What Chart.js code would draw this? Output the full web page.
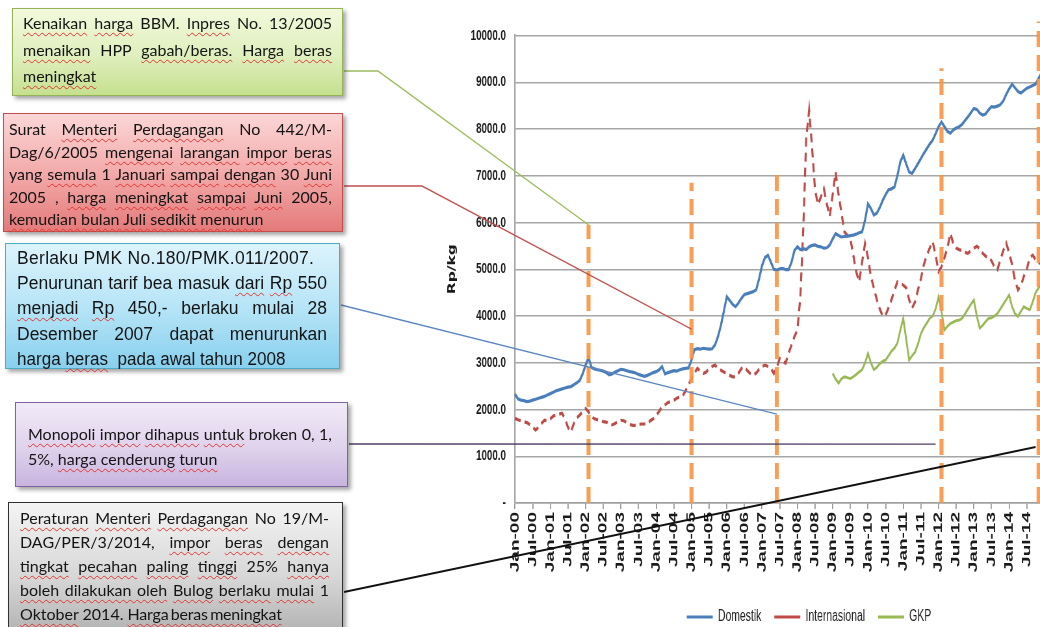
<!DOCTYPE html>
<html>
<head>
<meta charset="utf-8">
<title>Harga beras domestik, internasional dan GKP</title>
<script src="https://cdn.jsdelivr.net/npm/chart.js@4.4.1/dist/chart.umd.min.js"></script>
<style>
  html, body { margin: 0; padding: 0; background: #fff; width: 1040px; height: 627px; overflow: hidden; position: relative; }
  #chart { position: absolute; left: 0; top: 0; z-index: 1; transform-origin: 0 0; }
  .note { position: absolute; box-sizing: border-box; border: 1px solid; box-shadow: 3px 3px 4px rgba(0,0,0,.35); z-index: 2; color: #141414; }
  .note div { white-space: nowrap; }
  .note div.j { white-space: normal; text-align: justify; text-align-last: justify; }
  .sq { text-decoration: underline wavy #e3342f; text-decoration-thickness: 1px; text-underline-offset: 3px; text-decoration-skip-ink: none; }
  .cal { font-family: Lato, "Open Sans", sans-serif; font-size: 16px; }
  .ari { font-family: "Liberation Sans", Arial, sans-serif; font-size: 17.5px; }

  #n1 { left: 12px; top: 8px; width: 331px; height: 88px; padding: 1px 10px 0 10px; line-height: 26.5px;
        border-color: #93b356; background: linear-gradient(#f2f9dc, #dfefbd 55%, #c5e08f); }
  #n2 { left: 3px; top: 113px; width: 340px; height: 119px; padding: 4px 10px 0 5px; line-height: 22.6px;
        border-color: #c0504d; background: linear-gradient(#fbd6d6, #f2a6a6 55%, #e47a7a); }
  #n3 { left: 5px; top: 243px; width: 335px; height: 126px; padding: 2px 12px 0 11px; line-height: 25.2px;
        border-color: #4bacc6; background: linear-gradient(#dcf3fc, #b3e3f6 55%, #88d0ee); }
  #n4 { left: 15px; top: 402px; width: 333px; height: 85px; padding: 18px 15px 0 12px; line-height: 25px;
        border-color: #8064a2; background: linear-gradient(#f1eaf8, #dfd2ec 55%, #c8b4df); }
  #n5 { left: 8px; top: 502px; width: 335px; height: 140px; padding: 3px 13px 0 11px; line-height: 24.1px;
        border: 1.5px solid #303030; background: linear-gradient(#f4f4f4, #d6d6d6 55%, #adadad); }
  .wide { letter-spacing: 0.3px; }
  .narrow { display: inline-block; transform: scaleX(0.975); transform-origin: left center; }
  .tight { letter-spacing: -0.2px; word-spacing: -1.5px; }
</style>
</head>
<body>
<canvas id="chart"></canvas>

<div class="note cal" id="n1">
  <div class="j"><span class="sq">Kenaikan</span> <span class="sq">harga</span> BBM. <span class="sq">Inpres</span> No. 13/2005</div>
  <div class="j"><span class="sq">menaikan</span> HPP <span class="sq">gabah/beras.</span> <span class="sq">Harga</span> <span class="sq">beras</span></div>
  <div><span class="sq">meningkat</span></div>
</div>

<div class="note cal" id="n2">
  <div class="j">Surat <span class="sq">Menteri</span> <span class="sq">Perdagangan</span> No 442/M-</div>
  <div class="j">Dag/6/2005 <span class="sq">mengenai</span> <span class="sq">larangan</span> <span class="sq">impor</span> <span class="sq">beras</span></div>
  <div class="j">yang <span class="sq">semula</span> 1 <span class="sq">Januari</span> <span class="sq">sampai</span> <span class="sq">dengan</span> 30 <span class="sq">Juni</span></div>
  <div class="j">2005 , <span class="sq">harga</span> <span class="sq">meningkat</span> <span class="sq">sampai</span> <span class="sq">Juni</span> 2005,</div>
  <div><span class="sq">kemudian bulan Juli sedikit menurun</span></div>
</div>

<div class="note ari" id="n3">
  <div class="wide">Berlaku PMK No.180/PMK.011/2007.</div>
  <div class="j">Penurunan tarif bea masuk <span class="sq">dari</span> <span class="sq">Rp</span> 550</div>
  <div class="j"><span class="sq">menjadi</span> <span class="sq">Rp</span> 450,- berlaku mulai 28</div>
  <div class="j">Desember 2007 dapat menurunkan</div>
  <div><span class="narrow">harga <span class="sq">beras</span>&nbsp; pada awal tahun 2008</span></div>
</div>

<div class="note cal" id="n4">
  <div class="j"><span class="sq">Monopoli</span> <span class="sq">impor</span> <span class="sq">dihapus</span> <span class="sq">untuk</span> broken 0, 1,</div>
  <div>5%, <span class="sq">harga cenderung</span> <span class="sq">turun</span></div>
</div>

<div class="note cal" id="n5">
  <div class="j"><span class="sq">Peraturan</span> <span class="sq">Menteri</span> <span class="sq">Perdagangan</span> No 19/M-</div>
  <div class="j">DAG/PER/3/2014, <span class="sq">impor</span> <span class="sq">beras</span> <span class="sq">dengan</span></div>
  <div class="j"><span class="sq">tingkat</span> <span class="sq">pecahan</span> <span class="sq">paling</span> <span class="sq">tinggi</span> 25% <span class="sq">hanya</span></div>
  <div class="j"><span class="sq">boleh dilakukan oleh</span> <span class="sq">Bulog</span> <span class="sq">berlaku</span> <span class="sq">mulai</span> 1</div>
  <div><span class="sq">Oktober</span> 2014. <span class="sq tight">Harga beras meningkat</span></div>
</div>

<script>
// Monthly categories Jan-00 .. Dec-14
const monthNames = ['Jan','Feb','Mar','Apr','May','Jun','Jul','Aug','Sep','Oct','Nov','Dec'];
const yearCodes = ['00','01','02','03','04','05','06','07','08','09','10','11','12','13','14'];
const categories = yearCodes.flatMap(y => monthNames.map(m => m + '-' + y));

// Harga beras domestik (Rp/kg), monthly from Jan-00
const domestik = [
  2330, 2230, 2200, 2190, 2170, 2180, 2200, 2220, 2240, 2260, 2280, 2310,
  2340, 2370, 2400, 2420, 2440, 2460, 2480, 2490, 2530, 2570, 2620, 2760,
  2950, 3110, 2900, 2870, 2850, 2840, 2820, 2790, 2740, 2760, 2800, 2830,
  2860, 2850, 2830, 2810, 2800, 2780, 2750, 2730, 2710, 2730, 2760, 2790,
  2810, 2850, 2920, 2760, 2790, 2810, 2830, 2820, 2850, 2870, 2880, 2890,
  3060, 3280, 3300, 3290, 3310, 3300, 3290, 3300, 3380, 3560, 3800, 4100,
  4410, 4330, 4250, 4200, 4280, 4380, 4460, 4480, 4500, 4520, 4560, 4800,
  5080, 5250, 5300, 5150, 5000, 4980, 5010, 5020, 4990, 4990, 5150, 5400,
  5480, 5420, 5440, 5420, 5480, 5510, 5520, 5490, 5480, 5450, 5460, 5520,
  5650, 5760, 5720, 5690, 5700, 5710, 5720, 5730, 5750, 5780, 5800, 6050,
  6400, 6300, 6160, 6200, 6320, 6470, 6600, 6700, 6720, 6760, 7000, 7300,
  7440, 7250, 7080, 7050, 7150, 7260, 7370, 7480, 7580, 7680, 7760, 7900,
  8050, 8150, 8050, 7950, 7910, 7980, 8020, 8050, 8100, 8180, 8260, 8350,
  8440, 8420, 8340, 8300, 8320, 8410, 8480, 8470, 8490, 8520, 8600, 8740,
  8860, 8960, 8880, 8800, 8770, 8820, 8870, 8900, 8930, 8960, 9080, 9200
];

// Harga beras internasional (Rp/kg), monthly from Jan-00
const internasional = [
  1810, 1780, 1760, 1740, 1720, 1680, 1620, 1560, 1620, 1700, 1770, 1760,
  1800, 1860, 1880, 1900, 1920, 1800, 1620, 1520, 1700, 1820, 1880, 1950,
  2020, 1950, 1850, 1800, 1780, 1760, 1740, 1730, 1700, 1670, 1700, 1740,
  1770, 1760, 1720, 1680, 1660, 1660, 1680, 1690, 1690, 1700, 1760, 1800,
  1870, 1960, 2060, 2100, 2150, 2170, 2200, 2240, 2270, 2290, 2400, 2530,
  2660, 2780, 2880, 2820, 2770, 2800, 2880, 2920, 2950, 2880, 2840, 2800,
  2770, 2730, 2700, 2700, 2780, 2880, 2910, 2830, 2770, 2740, 2780, 2860,
  2920, 2950, 2920, 2880, 2770, 2900, 3090, 3030, 2990, 3200, 3380, 3560,
  3700, 4400, 5850, 7800, 8400, 7600, 6700, 6380, 6550, 6720, 6400, 6130,
  6600, 7080, 6600, 6200, 5800, 5720, 5660, 5300, 4950, 4730, 5150, 5550,
  5250, 4840, 4600, 4350, 4150, 4000, 4020, 4180, 4350, 4550, 4730, 4700,
  4660, 4600, 4350, 4170, 4300, 4560, 4800, 5100, 5300, 5450, 5590, 5300,
  4950, 5050, 5250, 5450, 5770, 5550, 5450, 5420, 5400, 5360, 5340, 5400,
  5450, 5490, 5440, 5340, 5280, 5260, 5180, 5050, 4990, 5200, 5400, 5560,
  5350, 5100, 4750, 4560, 4650, 4850, 5000, 5250, 5300, 5200, 5150, 5100
];

// Harga gabah kering panen (Rp/kg), monthly from Jan-09
const gkpStart = 'Jan-09';
const gkp = [
  2770, 2650, 2560, 2660, 2700, 2680, 2660, 2700, 2750, 2800, 2850, 3000,
  3200, 3000, 2850, 2900, 2980, 3030, 3060, 3150, 3250, 3310, 3420, 3700,
  3950, 3500, 3060, 3150, 3230, 3400, 3620, 3750, 3850, 3950, 4000, 4150,
  4410, 4100, 3700, 3780, 3840, 3870, 3900, 3910, 3950, 4050, 4150, 4250,
  4340, 4000, 3740, 3800, 3880, 3950, 3960, 4000, 4050, 4150, 4250, 4350,
  4450, 4200, 4050, 3990, 4100, 4200, 4160, 4130, 4300, 4500, 4600, 4700
];

// Policy events: month of each vertical marker and the price level its marker reaches
const eventMonths = ['Feb-02', 'Jan-05', 'Jun-07', 'Feb-12', 'Nov-14'];
const eventTops   = [5950, 6850, 7150, 9300, 10300];

// Where each note's connector meets the chart (month, Rp/kg)
const leaderMonths = ['Feb-02', 'Jan-05', 'Jun-07', 'Dec-11', 'Oct-14'];
const leaderValues = [5950, 3720, 1900, 1260, 1200];

// Y-axis tick values
const yTicks = [0, 1000, 2000, 3000, 4000, 5000, 6000, 7000, 8000, 9000, 10000];

const gkpOffset = categories.indexOf(gkpStart);
const gkpPoints = gkp.map((v, i) => ({ x: categories[gkpOffset + i], y: v }));

// The chart is drawn wide and shown horizontally condensed, giving its
// narrow lettering; page pixels convert to canvas pixels through this factor.
const squeeze = 0.65;
const cw = v => v / squeeze;

const canvas = document.getElementById('chart');
canvas.width = Math.ceil(cw(1046));
canvas.height = 627;
canvas.style.transform = `scaleX(${squeeze})`;

const sansFont = "'Liberation Sans', Arial, sans-serif";

// Connector styling, tied to the note boxes by id
const leaderStyle = [
  { box: 'n1', dy: 63, bendX: 378, color: '#9bbb59', width: 1.4 },
  { box: 'n2', dy: 73, bendX: 422, color: '#c0504d', width: 1.4 },
  { box: 'n3', dy: 62, bendX: null, color: '#5b86bf', width: 1.4 },
  { box: 'n4', dy: 42, bendX: null, color: '#4d3f63', width: 1.4 },
  { box: 'n5', dy: 90, bendX: null, color: '#111111', width: 2 }
];

const eventLinesPlugin = {
  id: 'eventLines',
  afterDatasetsDraw(chart) {
    const { ctx, scales: { x, y } } = chart;
    ctx.save();
    ctx.strokeStyle = 'rgba(247,150,70,0.92)';
    ctx.lineWidth = cw(4);
    ctx.setLineDash([16, 8]);
    eventMonths.forEach((m, i) => {
      const px = x.getPixelForValue(categories.indexOf(m));
      ctx.beginPath();
      ctx.moveTo(px, y.getPixelForValue(0));
      ctx.lineTo(px, y.getPixelForValue(eventTops[i]));
      ctx.stroke();
    });
    ctx.restore();
  }
};

const leaderPlugin = {
  id: 'leaders',
  afterDraw(chart) {
    const { ctx, scales: { x, y } } = chart;
    const cRect = chart.canvas.getBoundingClientRect();
    ctx.save();
    leaderStyle.forEach((s, i) => {
      const r = document.getElementById(s.box).getBoundingClientRect();
      const sx = cw(r.right - cRect.left + 1);
      const sy = r.top - cRect.top + s.dy;
      const ex = x.getPixelForValue(categories.indexOf(leaderMonths[i]));
      const ey = y.getPixelForValue(leaderValues[i]);
      ctx.strokeStyle = s.color;
      ctx.lineWidth = s.width;
      ctx.beginPath();
      ctx.moveTo(sx, sy);
      if (s.bendX !== null) ctx.lineTo(cw(s.bendX), sy);
      ctx.lineTo(ex, ey);
      ctx.stroke();
    });
    ctx.restore();
  }
};

const legendPlacePlugin = {
  id: 'legendPlace',
  afterLayout(chart, args, opts) {
    const lg = chart.legend;
    if (!lg) return;
    const dx = opts.centerX - (lg.left + lg.right) / 2;
    lg.left += dx; lg.right += dx;
    lg.top += opts.dy; lg.bottom += opts.dy;
  }
};

new Chart(canvas, {
  type: 'line',
  data: {
    labels: categories,
    datasets: [
      { label: 'Domestik', data: domestik, borderColor: '#4a7ebb', backgroundColor: '#4a7ebb',
        borderWidth: 3.2, pointRadius: 0, tension: 0 },
      { label: 'Internasional', data: internasional, borderColor: '#be4b48', backgroundColor: '#be4b48',
        borderWidth: 3.2, borderDash: [9, 6], pointRadius: 0, tension: 0 },
      { label: 'GKP', data: gkpPoints, borderColor: '#98b954', backgroundColor: '#98b954',
        borderWidth: 2.8, pointRadius: 0, tension: 0 }
    ]
  },
  options: {
    responsive: false,
    animation: false,
    devicePixelRatio: 1,
    layout: { padding: { left: cw(438), right: canvas.width - cw(1041.5), top: 35.5, bottom: 0 } },
    plugins: {
      tooltip: { enabled: false },
      legend: {
        position: 'bottom',
        labels: {
          usePointStyle: true, pointStyle: 'line', pointStyleWidth: cw(26),
          boxHeight: 3, padding: cw(13), color: '#222',
          font: { family: sansFont, size: 16 }
        }
      },
      legendPlace: { centerX: cw(809), dy: 8 }
    },
    scales: {
      x: {
        type: 'category',
        ticks: {
          autoSkip: false, maxRotation: 90, minRotation: 90, padding: 3, color: '#1a1a1a',
          font: { family: sansFont, size: 19, weight: 'bold' }
        },
        afterBuildTicks: s => { s.ticks = s.ticks.filter(t => t.value % 6 === 0); },
        afterFit: s => { s.height = 78; },
        grid: { drawOnChartArea: false, drawTicks: true, tickLength: 6, color: '#9a9a9a', lineWidth: cw(1.2) },
        border: { color: '#a0a0a0', width: 1.5 }
      },
      y: {
        min: 0, max: 10000,
        afterBuildTicks: s => { s.ticks = yTicks.map(v => ({ value: v })); },
        ticks: {
          padding: 14, color: '#1a1a1a',
          font: { family: sansFont, size: 15, weight: 'bold' },
          callback: v => v === 0 ? '-' : Number(v).toFixed(1)
        },
        afterFit: s => { s.width = cw(77); },
        grid: { color: '#a6a6a6', lineWidth: 1.5, drawTicks: false },
        border: { color: '#a6a6a6', width: cw(1.5) },
        title: {
          display: true, text: 'Rp/kg', color: '#1a1a1a', padding: { top: 13, bottom: 0 },
          font: { family: "'DejaVu Sans', sans-serif", size: 15.5, weight: 'bold' }
        }
      }
    }
  },
  plugins: [eventLinesPlugin, leaderPlugin, legendPlacePlugin]
});
</script>
</body>
</html>
